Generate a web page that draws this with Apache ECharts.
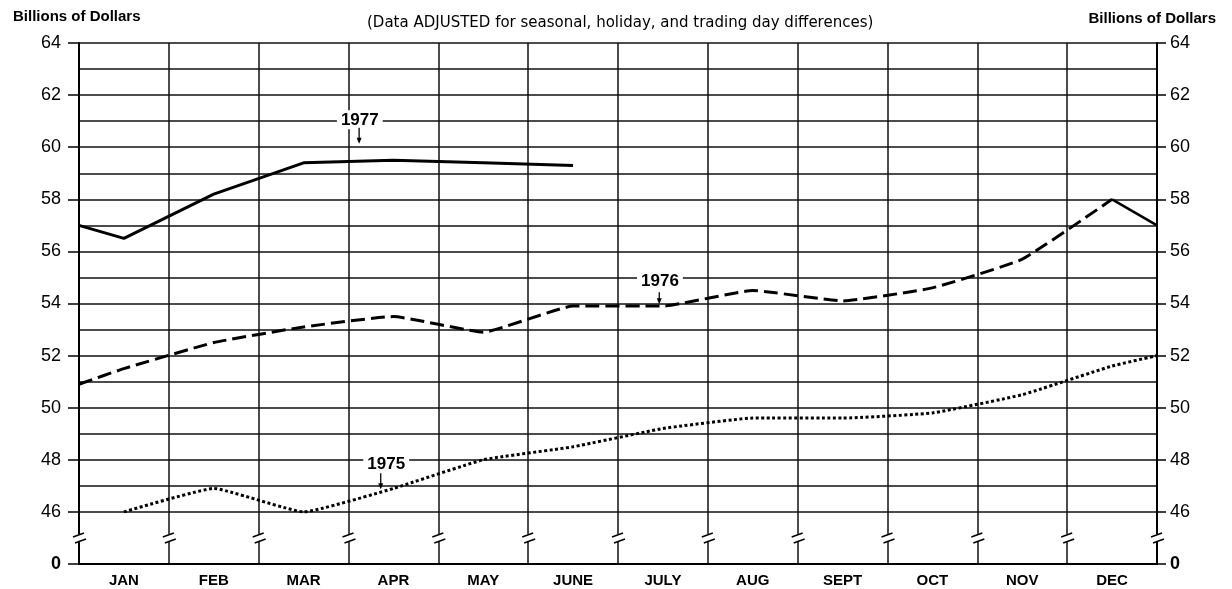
<!DOCTYPE html>
<html><head><meta charset="utf-8">
<script src="https://cdn.jsdelivr.net/npm/echarts@6/dist/echarts.min.js"></script>
<style>html,body{margin:0;padding:0;background:#fff}#c{width:1232px;height:589px}</style>
</head><body><div id="c"></div>
<script>
// ---- data ----
const months = ['JAN','FEB','MAR','APR','MAY','JUNE','JULY','AUG','SEPT','OCT','NOV','DEC'];
const values1975 = [46.0, 46.9, 46.0, 46.9, 48.0, 48.5, 49.2, 49.6, 49.6, 49.8, 50.5, 51.6];
const end1975 = 52.0;
const start1976 = 50.9;
const values1976 = [51.5, 52.5, 53.1, 53.5, 52.9, 53.9, 53.9, 54.5, 54.1, 54.6, 55.7, 58.0];
const end1976 = 57.0;
const start1977 = 57.0;
const values1977 = [56.5, 58.2, 59.4, 59.5, 59.4, 59.3];
const yTickValues = [44, 46, 48, 50, 52, 54, 56, 58, 60, 62, 64];
const yTickLabels = ['0', '46', '48', '50', '52', '54', '56', '58', '60', '62', '64'];
const yearLabels = ['1975', '1976', '1977'];

// ---- layout / style config ----
const Y_MIN = 44, Y_MAX = 64, BREAK_AT = 45;
const annotationCfg = [
  { at: [3.42, 47.83], arrowDx: -5.5, from: 9, to: 25 },
  { at: [6.467, 54.85], arrowDx: -0.7, from: 11, to: 23 },
  { at: [3.126, 61.05], arrowDx: -0.7, from: 8, to: 24 }
];
const FONT = '"Liberation Sans", Arial, Helvetica, sans-serif';

function toPoints(vals, start, end) {
  const out = [];
  if (start != null) out.push([0, start]);
  vals.forEach((v, i) => out.push([i + 0.5, v]));
  if (end != null) out.push([months.length, end]);
  return out;
}

const splitColors = [];
for (let v = Y_MIN; v <= Y_MAX; v++) splitColors.push(v === BREAK_AT ? 'rgba(0,0,0,0)' : '#111');

function tickLabel(v) {
  const i = yTickValues.indexOf(v);
  if (i < 0) return '';
  return v === Y_MIN ? '{b|' + yTickLabels[i] + '}' : yTickLabels[i];
}

const labelAxisCommon = {
  type: 'value', min: Y_MIN, max: Y_MAX, interval: 2,
  splitLine: { show: false },
  axisLine: { show: false },
  axisLabel: {
    formatter: tickLabel, color: '#000', fontFamily: FONT, fontSize: 18,
    rich: { b: { fontWeight: 'bold', fontSize: 18, fontFamily: FONT, color: '#000' } }
  }
};

const chart = echarts.init(document.getElementById('c'));
chart.setOption({
  backgroundColor: '#fff',
  animation: false,
  title: [
    { text: 'Billions of Dollars', left: 8, top: 4,
      textStyle: { fontFamily: FONT, fontSize: 15, fontWeight: 'bold', color: '#000' } },
    { text: '(Data ADJUSTED for seasonal, holiday, and trading day differences)', left: 362, top: 11,
      textStyle: { fontFamily: '"DejaVu Sans", sans-serif', fontSize: 15, fontWeight: 'normal', color: '#000' } },
    { text: 'Billions of Dollars', right: 11, top: 6,
      textStyle: { fontFamily: FONT, fontSize: 15, fontWeight: 'bold', color: '#000' } }
  ],
  grid: { left: 79, right: 75, top: 43, bottom: 25, containLabel: false },
  xAxis: [
    {
      type: 'category', data: months, boundaryGap: true,
      axisLine: { show: true, lineStyle: { color: '#000', width: 2 } },
      axisTick: { show: false },
      splitLine: { show: true, interval: 0, lineStyle: { color: '#111', width: 1.5 } },
      axisLabel: { interval: 0, margin: 9, color: '#000', fontFamily: FONT, fontSize: 15, fontWeight: 'bold' }
    },
    { type: 'value', min: 0, max: months.length, show: false }
  ],
  yAxis: [
    {
      type: 'value', min: Y_MIN, max: Y_MAX, interval: 1, position: 'left',
      axisLine: { show: true, lineStyle: { color: '#000', width: 2 } },
      axisTick: { show: false }, axisLabel: { show: false },
      splitLine: { show: true, lineStyle: { color: splitColors, width: 1.5 } }
    },
    Object.assign({}, labelAxisCommon, {
      position: 'left',
      axisTick: { show: true, inside: false, length: 11, lineStyle: { color: '#000', width: 1.5 } },
      axisLabel: Object.assign({}, labelAxisCommon.axisLabel, { margin: 18 })
    }),
    Object.assign({}, labelAxisCommon, {
      position: 'right',
      axisLine: { show: true, lineStyle: { color: '#000', width: 2 } },
      axisTick: { show: true, inside: false, length: 9, lineStyle: { color: '#000', width: 1.5 } },
      axisLabel: Object.assign({}, labelAxisCommon.axisLabel, { margin: 13 })
    })
  ],
  series: [
    {
      name: yearLabels[0], type: 'line', xAxisIndex: 1, yAxisIndex: 0,
      data: toPoints(values1975, null, end1975), smooth: 0.12, symbol: 'none',
      lineStyle: { color: '#000', width: 3, type: [3, 2.5] }, z: 3
    },
    {
      name: yearLabels[1], type: 'line', xAxisIndex: 1, yAxisIndex: 0,
      data: toPoints(values1976, start1976, null), smooth: 0.12, symbol: 'none',
      lineStyle: { color: '#000', width: 3, type: [14, 6] }, z: 3
    },
    {
      name: yearLabels[1] + ' to ' + yearLabels[2], type: 'line', xAxisIndex: 1, yAxisIndex: 0,
      data: [[months.length - 0.5, values1976[values1976.length - 1]], [months.length, end1976]],
      symbol: 'none', lineStyle: { color: '#000', width: 2.5 }, z: 3
    },
    {
      name: yearLabels[2], type: 'line', xAxisIndex: 1, yAxisIndex: 0,
      data: toPoints(values1977, start1977, null), smooth: false, symbol: 'none',
      lineStyle: { color: '#000', width: 3 }, z: 3
    },
    {
      name: 'breaks', type: 'custom', xAxisIndex: 1, yAxisIndex: 0, clip: false, silent: true, z: 4,
      data: months.map((m, i) => [i, BREAK_AT]).concat([[months.length, BREAK_AT]]),
      renderItem: function (params, api) {
        const p = api.coord([api.value(0), api.value(1)]);
        const x = p[0], y = p[1];
        return {
          type: 'group', children: [
            { type: 'rect', shape: { x: x - 3, y: y - 4, width: 6, height: 7 }, style: { fill: '#fff' } },
            { type: 'line', shape: { x1: x - 6, y1: y - 1, x2: x + 5, y2: y - 5 }, style: { stroke: '#000', lineWidth: 1.5 } },
            { type: 'line', shape: { x1: x - 4, y1: y + 5, x2: x + 7, y2: y + 1 }, style: { stroke: '#000', lineWidth: 1.5 } }
          ]
        };
      }
    },
    {
      name: 'labels', type: 'custom', xAxisIndex: 1, yAxisIndex: 0, clip: false, silent: true, z: 5,
      data: annotationCfg.map((a, i) => [a.at[0], a.at[1], i]),
      renderItem: function (params, api) {
        const i = api.value(2);
        const a = annotationCfg[i];
        const p = api.coord([api.value(0), api.value(1)]);
        const ax = p[0] + a.arrowDx;
        return {
          type: 'group', children: [
            { type: 'text', x: p[0], y: p[1], style: {
                text: yearLabels[i], x: 0, y: 0, align: 'center', verticalAlign: 'middle',
                font: 'bold 17px ' + FONT, fill: '#000', backgroundColor: '#fff', padding: [1, 4] } },
            { type: 'line', shape: { x1: ax, y1: p[1] + a.from, x2: ax, y2: p[1] + a.to - 4 },
              style: { stroke: '#000', lineWidth: 1.3 } },
            { type: 'polygon', shape: { points: [[ax - 2.5, p[1] + a.to - 6], [ax + 2.5, p[1] + a.to - 6], [ax, p[1] + a.to]] },
              style: { fill: '#000' } }
          ]
        };
      }
    }
  ]
});
</script>
</body></html>
